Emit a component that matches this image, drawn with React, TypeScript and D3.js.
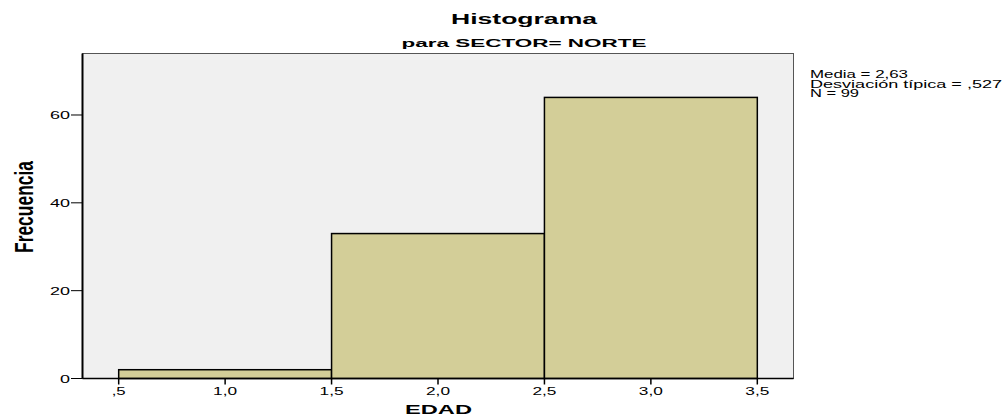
import React from "react";
import * as d3 from "d3";

const binStarts = [0.5, 1.5, 2.5];
const binEnds = [1.5, 2.5, 3.5];
const frequencies = [2, 33, 64];
const xTicks = [0.5, 1.0, 1.5, 2.0, 2.5, 3.0, 3.5];
const xTickLabels = [",5", "1,0", "1,5", "2,0", "2,5", "3,0", "3,5"];
const yTicks = [0, 20, 40, 60];
const statsLines = ["Media = 2,63", "Desviación típica = ,527", "N = 99"];
const statsLengths = [98, 192, 49];

const W = 1006;
const H = 416;
const box = { left: 82.5, right: 793.5, top: 53.5, bottom: 378.5 };

function labelLen(s: string) {
  let n = 0;
  for (const c of s) n += c === "," ? 4 : 10;
  return n;
}

export default function App() {
  const x = d3.scaleLinear().domain([0.33, 3.67]).range([box.left, box.right]);
  const y = d3.scaleLinear().domain([0, 74]).range([box.bottom, box.top]);
  const font = "Arial, 'Liberation Sans', sans-serif";
  return (
    <svg width={W} height={H} style={{ position: "absolute", left: 0, top: 0, background: "#fff" }}>
      <text x={524} y={24} textAnchor="middle" fontFamily={font} fontWeight="bold" fontSize={15}
        textLength={146} lengthAdjust="spacingAndGlyphs">Histograma</text>
      <text x={524} y={47} textAnchor="middle" fontFamily={font} fontWeight="bold" fontSize={11.5}
        textLength={245} lengthAdjust="spacingAndGlyphs">para SECTOR= NORTE</text>
      <rect x={box.left} y={box.top} width={box.right - box.left} height={box.bottom - box.top}
        fill="#f0f0f0" stroke="#555" strokeWidth={1} />
      {frequencies.map((f, i) => (
        <rect key={i} x={x(binStarts[i])} y={y(f)} width={x(binEnds[i]) - x(binStarts[i])}
          height={y(0) - y(f)} fill="#d3ce98" stroke="#000" strokeWidth={1.5} />
      ))}
      <line x1={box.left} x2={box.left} y1={box.top} y2={box.bottom} stroke="#000" strokeWidth={2} />
      <line x1={box.left} x2={box.right} y1={box.bottom} y2={box.bottom} stroke="#000" strokeWidth={1.5} />
      {yTicks.map((t) => (
        <g key={t}>
          <line x1={71} x2={box.left} y1={y(t)} y2={y(t)} stroke="#000" strokeWidth={1} />
          <text x={70} y={y(t) + 4} textAnchor="end" fontFamily={font} fontSize={11}
            textLength={labelLen(String(t))} lengthAdjust="spacingAndGlyphs">{t}</text>
        </g>
      ))}
      {xTicks.map((t, i) => (
        <g key={t}>
          <line x1={x(t)} x2={x(t)} y1={box.bottom} y2={box.bottom + 6} stroke="#000" strokeWidth={1.5} />
          <text x={x(t)} y={395} textAnchor="middle" fontFamily={font} fontSize={11}
            textLength={labelLen(xTickLabels[i])} lengthAdjust="spacingAndGlyphs">{xTickLabels[i]}</text>
        </g>
      ))}
      <text x={438.5} y={414} textAnchor="middle" fontFamily={font} fontWeight="bold" fontSize={13}
        textLength={67} lengthAdjust="spacingAndGlyphs">EDAD</text>
      <text transform={`translate(33,207) rotate(-90)`} textAnchor="middle"
        fontFamily="'Liberation Sans Narrow', 'Arial Narrow', Arial, sans-serif" fontWeight="bold" fontSize={26}
        textLength={92} lengthAdjust="spacingAndGlyphs">Frecuencia</text>
      {statsLines.map((s, i) => (
        <text key={i} x={810} y={78 + i * 9.5} fontFamily={font} fontSize={10}
          textLength={statsLengths[i]} lengthAdjust="spacingAndGlyphs">{s}</text>
      ))}
    </svg>
  );
}
